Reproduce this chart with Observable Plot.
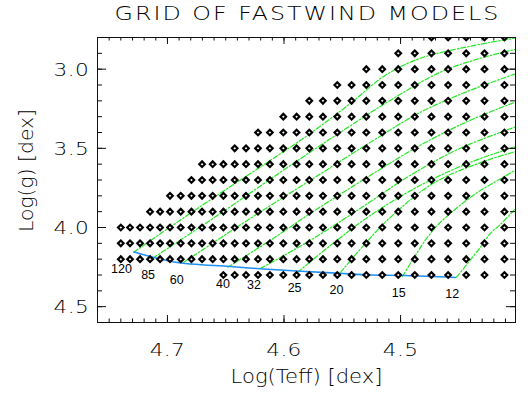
<!DOCTYPE html>
<html>
<head>
<meta charset="utf-8">
<script src="https://cdn.jsdelivr.net/npm/d3@7"></script>
<script src="https://cdn.jsdelivr.net/npm/@observablehq/plot@0.6"></script>
<style>
  html, body { margin: 0; padding: 0; background: #fff; }
  #chart svg { display: block; }
</style>
</head>
<body>
<div id="chart"></div>
<script>
// Effective-temperature columns of the model grid (log Teff, hot to cool)
const logTeffColumns = [
  4.7400, 4.7321, 4.7235, 4.7149, 4.7063, 4.6978, 4.6886, 4.6794, 4.6703, 4.6612,
  4.6520, 4.6423, 4.6326, 4.6223, 4.6121, 4.6006, 4.5892, 4.5783, 4.5666, 4.5543,
  4.5420, 4.5294, 4.5157, 4.5020, 4.4878, 4.4735, 4.4592, 4.4437, 4.4280, 4.4109
];
// Surface-gravity rows of the grid (log g)
const loggRows = [2.8, 2.9, 3.0, 3.1, 3.2, 3.3, 3.4, 3.5, 3.6, 3.7, 3.8, 3.9, 4.0, 4.1, 4.2, 4.3];
// Hottest column present in each row (index into logTeffColumns)
const rowFirstColumn = [25, 23, 21, 19, 17, 15, 13, 11, 8, 7, 5, 3, 0, 0, 0, 10];

// Evolutionary tracks, [log Teff, log g] from the ZAMS outwards
const track120 = [[4.7289, 4.156], [4.6715, 3.866], [4.6115, 3.575], [4.5772, 3.405], [4.5429, 3.215], [4.5129, 3.038], [4.4829, 2.931], [4.4400, 2.855], [4.3972, 2.798]];
const track85  = [[4.7126, 4.194], [4.6543, 3.910], [4.5943, 3.607], [4.5515, 3.398], [4.5086, 3.196], [4.4658, 3.019], [4.4315, 2.931], [4.3972, 2.868]];
const track60  = [[4.6860, 4.220], [4.6286, 3.941], [4.5772, 3.701], [4.5257, 3.461], [4.4829, 3.272], [4.4400, 3.133], [4.3972, 3.019]];
const track40  = [[4.6483, 4.251], [4.6115, 4.080], [4.5772, 3.910], [4.5257, 3.670], [4.4829, 3.480], [4.4400, 3.322], [4.3972, 3.196]];
const track32  = [[4.6200, 4.258], [4.5772, 4.080], [4.5343, 3.878], [4.4915, 3.670], [4.4486, 3.499], [4.3972, 3.354]];
const track25  = [[4.5883, 4.283], [4.5600, 4.112], [4.5257, 3.923], [4.4829, 3.733], [4.4400, 3.588], [4.3972, 3.480]];
const track20  = [[4.5515, 4.283], [4.5300, 4.099], [4.5086, 3.935], [4.4718, 3.720], [4.4255, 3.575], [4.3972, 3.512]];
const track15  = [[4.4983, 4.308], [4.4872, 4.175], [4.4769, 4.061], [4.4658, 3.967], [4.4375, 3.796], [4.4118, 3.682], [4.3972, 3.619]];
const track12  = [[4.4520, 4.314], [4.4417, 4.220], [4.4315, 4.125], [4.4229, 4.037], [4.4143, 3.980], [4.3972, 3.847]];

// Zero-age main sequence
const zamsLogTeff = [4.7286, 4.6943, 4.6463, 4.6177, 4.5815, 4.5532, 4.5243, 4.4958, 4.4529];
const zamsLogg    = [4.1544, 4.2176, 4.2467, 4.2618, 4.2782, 4.2890, 4.2997, 4.3035, 4.3161];

// Initial masses (solar units) and where their labels sit
const massLabels   = ["120", "85", "60", "40", "32", "25", "20", "15", "12"];
const labelLogTeff = [4.7394, 4.7166, 4.6920, 4.6523, 4.6258, 4.5909, 4.5549, 4.5015, 4.4557];
const labelLogg    = [4.2637, 4.3016, 4.3288, 4.3540, 4.3648, 4.3793, 4.3964, 4.4134, 4.4216];

// Axis ticks
const xMajorTicks = [4.7, 4.6, 4.5];
const yMajorTicks = [3.0, 3.5, 4.0, 4.5];
const xMinorTicks = d3.range(441, 476).map(d => d / 100);
const yMinorTicks = d3.range(29, 46).map(d => d / 10);

const title = "GRID OF FASTWIND MODELS";
const xLabel = "Log(Teff) [dex]";
const yLabel = "Log(g) [dex]";

const models = loggRows.flatMap((g, i) =>
  logTeffColumns.slice(rowFirstColumn[i]).map(t => ({logTeff: t, logg: g}))
);
const trackList = [track120, track85, track60, track40, track32, track25, track20, track15, track12];
const tracks = trackList.flatMap((pts, i) =>
  pts.map(([t, g]) => ({mass: massLabels[i], logTeff: t, logg: g}))
);
const zams = zamsLogTeff.map((t, i) => ({logTeff: t, logg: zamsLogg[i]}));
const labels = massLabels.map((m, i) => ({mass: m, logTeff: labelLogTeff[i], logg: labelLogg[i]}));

const W = 528, H = 396;
const mL = 97, mR = 13, mT = 37, mB = 74;
const fw = W - mL - mR, fh = H - mT - mB;
const ink = "#111";
const hershey = "'DejaVu Sans', sans-serif";
const axisText = {fontFamily: hershey, fontWeight: 200, fill: "#000", lineAnchor: "middle"};

const plot = Plot.plot({
  width: W,
  height: H,
  marginLeft: mL,
  marginRight: mR,
  marginTop: mT,
  marginBottom: mB,
  style: {background: "#fff", color: ink, overflow: "visible"},
  x: {domain: [4.76, 4.4014], axis: null},
  y: {domain: [4.6, 2.8], axis: null},
  marks: [
    // evolutionary tracks
    Plot.line(tracks, {
      x: "logTeff", y: "logg", z: "mass",
      stroke: "#22e822", strokeWidth: 1.2, strokeDasharray: "5,2,1.5,2",
      curve: "catmull-rom", clip: true
    }),
    // ZAMS
    Plot.line(zams, {
      x: "logTeff", y: "logg",
      stroke: "#1f8ff2", strokeWidth: 1.6, curve: "catmull-rom", clip: true
    }),
    // model grid
    Plot.dot(models, {
      x: "logTeff", y: "logg", symbol: "diamond2", r: 2.5,
      fill: "#fff", stroke: "#000", strokeWidth: 2.2, clip: true
    }),
    // mass labels
    Plot.text(labels, {
      x: "logTeff", y: "logg", text: "mass",
      fontSize: 12.5, fontFamily: "'Liberation Sans', Arial, sans-serif", fill: "#000"
    }),
    // frame and inward ticks on all four sides
    Plot.frame({stroke: ink, strokeWidth: 1}),
    Plot.tickX(xMinorTicks, {x: d => d, insetTop: fh - 3.5, stroke: ink}),
    Plot.tickX(xMinorTicks, {x: d => d, insetBottom: fh - 3.5, stroke: ink}),
    Plot.tickX(xMajorTicks, {x: d => d, insetTop: fh - 7, stroke: ink}),
    Plot.tickX(xMajorTicks, {x: d => d, insetBottom: fh - 7, stroke: ink}),
    Plot.tickY(yMinorTicks, {y: d => d, insetRight: fw - 5, stroke: ink}),
    Plot.tickY(yMinorTicks, {y: d => d, insetLeft: fw - 5, stroke: ink}),
    Plot.tickY(yMajorTicks, {y: d => d, insetRight: fw - 9, stroke: ink}),
    Plot.tickY(yMajorTicks, {y: d => d, insetLeft: fw - 9, stroke: ink}),
    // tick labels
    Plot.text(xMajorTicks, {
      ...axisText, x: d => d, frameAnchor: "bottom", dy: 28, textAnchor: "middle",
      text: d => d.toFixed(1), fontSize: 18
    }),
    Plot.text(yMajorTicks, {
      ...axisText, y: d => d, frameAnchor: "left", dx: -8.5, dy: 1, textAnchor: "end",
      text: d => d.toFixed(1), fontSize: 18
    }),
    // axis titles and chart title
    Plot.text([xLabel], {
      ...axisText, frameAnchor: "bottom", dy: 54, textAnchor: "middle",
      text: d => d, fontSize: 19
    }),
    Plot.text([yLabel], {
      ...axisText, frameAnchor: "left", dx: -69.5, dy: -8, rotate: -90, textAnchor: "middle",
      text: d => d, fontSize: 19
    }),
    Plot.text([title], {
      ...axisText, frameAnchor: "top", dy: -24, dx: 1, textAnchor: "middle",
      text: d => d, fontSize: 19
    })
  ]
});

// wide stroke-font look: stretch glyphs horizontally and open up the spacing
const stretch = new Map([
  [title, {sx: 1.25, ls: "1.6px"}],
  [xLabel, {sx: 1.11, ls: "0px"}],
  [yLabel, {sx: 1.07, ls: "0px"}]
]);
for (const t of [...xMajorTicks, ...yMajorTicks]) stretch.set(t.toFixed(1), {sx: 1.2, ls: "0.3px"});
d3.select(plot).selectAll("text").each(function() {
  const s = stretch.get(this.textContent);
  if (!s) return;
  this.style.letterSpacing = s.ls;
  const tr = this.getAttribute("transform") || "";
  this.setAttribute("transform", `${tr} scale(${s.sx},1)`);
});

document.getElementById("chart").appendChild(plot);

// centre the vertical axis title on the middle of its reading span
{
  const svgBox = plot.getBoundingClientRect();
  const el = d3.select(plot).selectAll("text").filter(function() { return this.textContent === yLabel; }).node();
  if (el) {
    const b = el.getBoundingClientRect();
    const cy = b.top + b.height / 2 - svgBox.top;
    const cx = b.left + b.width / 2 - svgBox.left;
    const tr = el.getAttribute("transform") || "";
    el.setAttribute("transform", `translate(${27 - cx},${170.5 - cy}) ${tr}`);
  }
}
</script>
</body>
</html>
